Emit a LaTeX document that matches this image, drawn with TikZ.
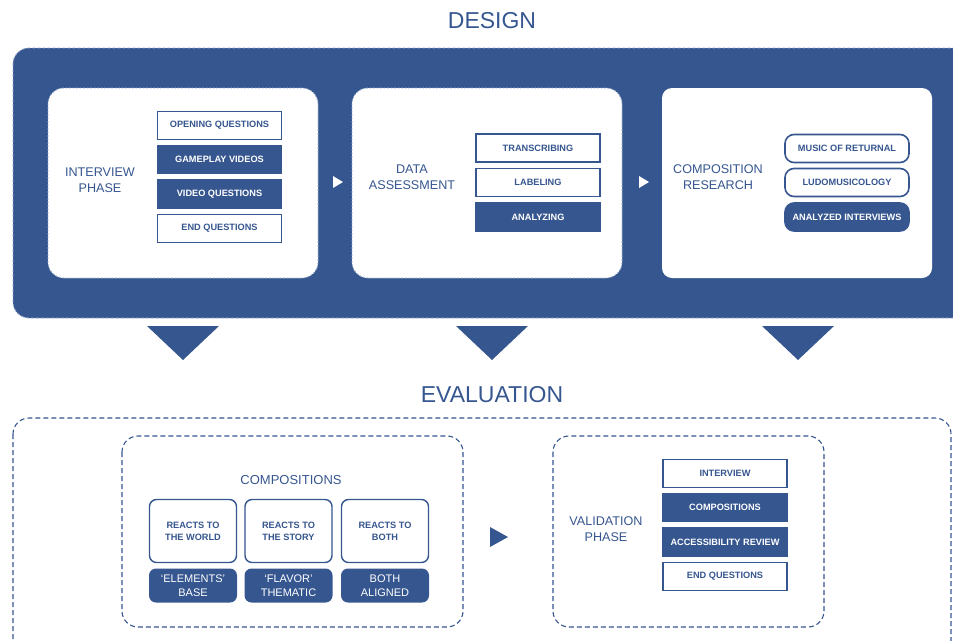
\documentclass[tikz,border=0pt]{standalone}
\usepackage{fontspec}
\setmainfont{Liberation Sans}
\usetikzlibrary{positioning}
\definecolor{navy}{RGB}{54,86,144}
\definecolor{edge}{RGB}{150,170,205}
\begin{document}
\begin{tikzpicture}[x=1pt,y=-1pt,
  title/.style={text=navy,font=\fontsize{23}{26}\selectfont},
  phase/.style={text=navy,align=center,font=\fontsize{12.6}{16}\selectfont},
  itemw/.style={draw=navy,line width=1.6pt,fill=white,text=navy,
    minimum width=124pt,minimum height=28pt,inner sep=0pt,
    font=\bfseries\fontsize{9.2}{11}\selectfont},
  itemf/.style={itemw,fill=navy,text=white},
  pillw/.style={itemw,rounded corners=9pt},
  pillf/.style={itemf,rounded corners=9pt},
  tilew/.style={draw=navy,line width=1.4pt,fill=white,text=navy,rounded corners=7pt,
    minimum width=87pt,minimum height=63pt,inner sep=0pt,align=center,
    font=\bfseries\fontsize{9.2}{12}\selectfont},
  tilef/.style={fill=navy,text=white,rounded corners=7pt,
    minimum width=88pt,minimum height=34pt,inner sep=0pt,align=center,
    font=\fontsize{11}{13.5}\selectfont},
  panel/.style={fill=white,rounded corners=16pt,minimum width=270pt,minimum height=190pt},
  frame/.style={draw=navy,dashed,line width=1.1pt,rounded corners=16pt,
    dash pattern=on 5pt off 3pt},
  tri/.style={fill=navy}
]
\useasboundingbox (0,0) rectangle (953,640);
\begin{scope}
\clip (0,0) rectangle (953,640);

% ---------------- DESIGN ----------------
\node[title] (design) at (492,21) {DESIGN};
\draw[fill=navy,draw=edge,dashed,dash pattern=on 3pt off 2pt,line width=0.8pt,
  rounded corners=16pt] (13,48) rectangle (975,318);

\node[panel,draw=edge,dash pattern=on 2pt off 1.5pt,line width=0.8pt] (p1) at (183,183) {};
\node[panel,draw=edge,dash pattern=on 2pt off 1.5pt,line width=0.8pt] (p2) at (487,183) {};
\node[panel,rounded corners=10pt] (p3) at (797,183) {};

\node[phase] (l1) at (100,180) {INTERVIEW\\PHASE};
\node[itemw] (a1) at (219.5,125.5) {OPENING QUESTIONS};
\node[itemf] (a2) at (219.5,159.5) {GAMEPLAY VIDEOS};
\node[itemf] (a3) at (219.5,194)   {VIDEO QUESTIONS};
\node[itemw] (a4) at (219.5,228.5) {END QUESTIONS};

\node[phase] (l2) at (412,177.5) {DATA\\ASSESSMENT};
\node[itemw] (b1) at (538,148)   {TRANSCRIBING};
\node[itemw] (b2) at (538,182.5) {LABELING};
\node[itemf] (b3) at (538,217)   {ANALYZING};

\node[phase] (l3) at (718,177.5) {COMPOSITION\\RESEARCH};
\node[pillw] (c1) at (847,148.5) {MUSIC OF RETURNAL};
\node[pillw] (c2) at (847,182.5) {LUDOMUSICOLOGY};
\node[pillf] (c3) at (847,217)   {ANALYZED INTERVIEWS};

% flow markers between the design panels
\fill[white] (333,176) -- (343,182) -- (333,188) -- cycle;
\fill[white] (639,176) -- (649,182) -- (639,188) -- cycle;

% hand-off markers down to the evaluation
\fill[tri] (147,326) -- (219,326) -- (183,360) -- cycle;
\fill[tri] (456,326) -- (528,326) -- (492,360) -- cycle;
\fill[tri] (762,326) -- (834,326) -- (798,360) -- cycle;

% ---------------- EVALUATION ----------------
\node[title] (evaluation) at (492,395) {EVALUATION};
\draw[frame] (13,418) rectangle (951,660);

\draw[frame] (122,436) rectangle (463,627);
\coordinate (compbox) at (292.5,531.5);
\node[phase,font=\fontsize{13}{16}\selectfont] (lc) at (291,480) {COMPOSITIONS};

\node[tilew] (t1) at (193,531) {REACTS TO\\THE WORLD};
\node[tilew] (t2) at (288.5,531) {REACTS TO\\THE STORY};
\node[tilew] (t3) at (385,531) {REACTS TO\\BOTH};
\node[tilef] (u1) at (193,585.5) {‘ELEMENTS’\\BASE};
\node[tilef] (u2) at (288.5,585.5) {‘FLAVOR’\\THEMATIC};
\node[tilef] (u3) at (385,585.5) {BOTH\\ALIGNED};

\fill[tri] (490,527) -- (508,537) -- (490,547) -- cycle;

\draw[frame] (553,436) rectangle (824,627);
\node[phase] (lv) at (606,529) {VALIDATION\\PHASE};
\node[itemw] (v1) at (725,473.5) {INTERVIEW};
\node[itemf] (v2) at (725,507.5) {COMPOSITIONS};
\node[itemf] (v3) at (725,542)   {ACCESSIBILITY REVIEW};
\node[itemw] (v4) at (725,576.5) {END QUESTIONS};
\end{scope}
\end{tikzpicture}
\end{document}
